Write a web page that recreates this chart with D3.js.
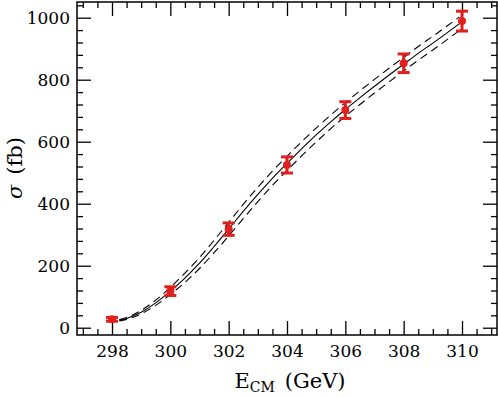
<!DOCTYPE html>
<html>
<head>
<meta charset="utf-8">
<script src="https://cdn.jsdelivr.net/npm/d3@7"></script>
<style>
  body { margin: 0; background: #fff; }
  text { font-family: "DejaVu Serif", serif; }
</style>
</head>
<body>
<script>
// measured points
var energies = [298, 300, 302, 304, 306, 308, 310];
var sigma = [27, 118, 318, 525, 702, 853, 989];
var sigmaErr = [6, 14, 20, 26, 27, 30, 32];

// theory curve, central and band edges
var curveE = [298.25, 298.5, 299, 299.5, 300, 300.5, 301, 301.5, 302, 302.5, 303, 303.5,
  304, 304.5, 305, 305.5, 306, 306.5, 307, 307.5, 308, 308.5, 309, 309.5, 309.9];
var curveMid = [24, 30, 50, 80, 118, 160, 208, 262, 318, 375, 430, 482,
  530, 577, 622, 664, 704, 742, 779, 815, 850, 885, 918, 952, 980];
var curveHi = [26, 33, 56, 89, 130, 176, 226, 282, 340, 398, 453, 505,
  553, 600, 644, 686, 726, 764, 801, 837, 872, 907, 940, 974, 1002];
var curveLo = [22, 27, 45, 72, 107, 146, 191, 242, 296, 352, 407, 459,
  507, 554, 599, 642, 682, 720, 757, 793, 828, 863, 896, 930, 958];

var xTicks = [298, 300, 302, 304, 306, 308, 310];
var yTicks = [0, 200, 400, 600, 800, 1000];

var w = 498, h = 398;
var pLeft = 77, pTop = 2, pRight = 497, pBottom = 335;

var svg = d3.select("body").append("svg")
  .attr("width", w)
  .attr("height", h);

var x = d3.scaleLinear().domain([296.8, 311.2]).range([pLeft, pRight]);
var y = d3.scaleLinear().domain([-23.5, 1050.6]).range([pBottom, pTop]);

var xMinor = d3.range(297, 311.01, 0.5).filter(function (v) { return v % 2 !== 0; });
var yMinor = d3.range(0, 1041, 40).filter(function (v) { return v % 200 !== 0; });

/* ===== AXES ===== */

function styleAxis(g) {
  g.select(".domain").remove();
  g.selectAll("line").attr("stroke", "#000").attr("stroke-width", 1.3);
  g.selectAll("text").attr("fill", "#000").attr("font-size", "17px")
    .attr("font-family", "DejaVu Serif");
}

// bottom
svg.append("g").attr("transform", "translate(0," + pBottom + ")")
  .call(d3.axisTop(x).tickValues(xTicks).tickSize(14).tickFormat(""))
  .call(styleAxis);
svg.append("g").attr("transform", "translate(0," + pBottom + ")")
  .call(d3.axisTop(x).tickValues(xMinor).tickSize(6).tickFormat(""))
  .call(styleAxis);
svg.append("g").attr("transform", "translate(0," + pBottom + ")")
  .call(d3.axisBottom(x).tickValues(xTicks).tickSize(0).tickPadding(10).tickFormat(d3.format("d")))
  .call(styleAxis);

// top
svg.append("g").attr("transform", "translate(0," + pTop + ")")
  .call(d3.axisBottom(x).tickValues(xTicks).tickSize(14).tickFormat(""))
  .call(styleAxis);
svg.append("g").attr("transform", "translate(0," + pTop + ")")
  .call(d3.axisBottom(x).tickValues(xMinor).tickSize(6).tickFormat(""))
  .call(styleAxis);

// left
svg.append("g").attr("transform", "translate(" + pLeft + ",0)")
  .call(d3.axisRight(y).tickValues(yTicks).tickSize(14).tickFormat(""))
  .call(styleAxis);
svg.append("g").attr("transform", "translate(" + pLeft + ",0)")
  .call(d3.axisRight(y).tickValues(yMinor).tickSize(6).tickFormat(""))
  .call(styleAxis);
svg.append("g").attr("transform", "translate(" + pLeft + ",0)")
  .call(d3.axisLeft(y).tickValues(yTicks).tickSize(0).tickPadding(7).tickFormat(d3.format("d")))
  .call(styleAxis);

// right
svg.append("g").attr("transform", "translate(" + pRight + ",0)")
  .call(d3.axisLeft(y).tickValues(yTicks).tickSize(14).tickFormat(""))
  .call(styleAxis);
svg.append("g").attr("transform", "translate(" + pRight + ",0)")
  .call(d3.axisLeft(y).tickValues(yMinor).tickSize(6).tickFormat(""))
  .call(styleAxis);

// frame
svg.append("rect")
  .attr("x", pLeft).attr("y", pTop)
  .attr("width", pRight - pLeft).attr("height", pBottom - pTop)
  .attr("fill", "none").attr("stroke", "#000").attr("stroke-width", 1.5);

/* ===== CURVES ===== */

var line = d3.line()
  .x(function (d) { return x(d[0]); })
  .y(function (d) { return y(d[1]); })
  .curve(d3.curveMonotoneX);

function pairs(vals) {
  return curveE.map(function (e, i) { return [e, vals[i]]; });
}

svg.append("path").datum(pairs(curveMid))
  .attr("d", line).attr("fill", "none").attr("stroke", "#000").attr("stroke-width", 1.1);
[curveHi, curveLo].forEach(function (vals) {
  svg.append("path").datum(pairs(vals))
    .attr("d", line).attr("fill", "none").attr("stroke", "#000")
    .attr("stroke-width", 1.1).attr("stroke-dasharray", "8,5");
});

/* ===== DATA POINTS ===== */

var red = "#e0201c";
var pts = svg.append("g").selectAll("g")
  .data(energies.map(function (e, i) { return { e: e, s: sigma[i], err: sigmaErr[i] }; }))
  .enter().append("g");

pts.append("line")
  .attr("x1", function (d) { return x(d.e); }).attr("x2", function (d) { return x(d.e); })
  .attr("y1", function (d) { return y(d.s - d.err); }).attr("y2", function (d) { return y(d.s + d.err); })
  .attr("stroke", red).attr("stroke-width", 3);
[-1, 1].forEach(function (sgn) {
  pts.append("line")
    .attr("x1", function (d) { return x(d.e) - 6; }).attr("x2", function (d) { return x(d.e) + 6; })
    .attr("y1", function (d) { return y(d.s + sgn * d.err); }).attr("y2", function (d) { return y(d.s + sgn * d.err); })
    .attr("stroke", red).attr("stroke-width", 3);
});
pts.append("circle")
  .attr("cx", function (d) { return x(d.e); })
  .attr("cy", function (d) { return y(d.s); })
  .attr("r", 4).attr("fill", red);

/* ===== TITLES ===== */

var xt = svg.append("text")
  .attr("x", 290).attr("y", 388)
  .attr("text-anchor", "middle")
  .attr("font-size", "21px").attr("fill", "#000");
xt.append("tspan").text("E");
xt.append("tspan").attr("font-size", "14px").attr("dy", 4).text("CM");
xt.append("tspan").attr("dy", -4).attr("dx", 10).text("(GeV)");

var yt = svg.append("text")
  .attr("transform", "translate(22,168) rotate(-90)")
  .attr("text-anchor", "middle")
  .attr("font-size", "21px").attr("fill", "#000");
yt.append("tspan").attr("font-style", "italic").text("σ");
yt.append("tspan").attr("dx", 10).text("(fb)");
</script>
</body>
</html>
